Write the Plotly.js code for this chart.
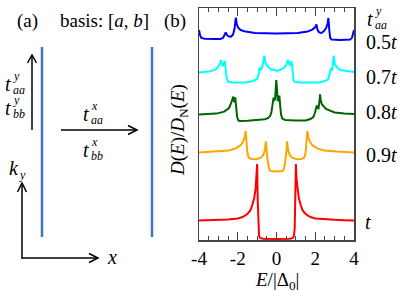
<!DOCTYPE html>
<html>
<head>
<meta charset="utf-8">
<script src="https://cdn.plot.ly/plotly-3.0.1.min.js"></script>
<style>html,body{margin:0;padding:0;background:#fff;}#chart{width:409px;height:292px;}</style>
</head>
<body>
<div id="chart"></div>
<script>
// ---------- data ----------
const seriesNames = ["0.5t", "0.7t", "0.8t", "0.9t", "t"];
const seriesLabels = ["0.5<i>t</i>", "0.7<i>t</i>", "0.8<i>t</i>", "0.9<i>t</i>", "<i>t</i>"];
const seriesColors = ["#0000ff", "#00ffff", "#006400", "#ffa500", "#ff0000"];
const tickVals = [-4, -2, 0, 2, 4];
const tickText = ["-4", "-2", "0", "2", "4"];

const redX = [-4,-3.5,-3,-2.5,-2,-1.75,-1.5,-1.35,-1.25,-1.15,-1.08,-1.03,-1.0,-0.97,-0.94,-0.9,-0.85,-0.7,0,0.7,0.85,0.9,0.94,0.97,1.0,1.03,1.08,1.15,1.25,1.35,1.5,1.75,2,2.5,3,3.5,4];
const redY = [0.98,0.99,1.01,1.03,1.08,1.15,1.3,1.48,1.75,2.1,2.55,3.1,3.8,2.0,0.6,0.22,0.1,0.06,0.05,0.06,0.1,0.22,0.6,2.0,3.8,3.1,2.55,2.1,1.75,1.48,1.3,1.15,1.08,1.03,1.01,0.99,0.98];

const orangeX = [-4,-3.1,-2.45,-2.1,-1.85,-1.72,-1.64,-1.59,-1.55,-1.5,-1.44,-1.3,-1.05,-0.8,-0.68,-0.6,-0.55,-0.51,-0.47,-0.42,-0.37,-0.3,0,0.3,0.37,0.42,0.47,0.51,0.55,0.6,0.68,0.8,1.05,1.3,1.44,1.5,1.55,1.59,1.64,1.72,1.85,2.1,2.45,3.1,4];
const orangeY = [4.38,4.42,4.48,4.58,4.74,4.92,5.15,5.45,4.9,4.35,4.12,4.05,4.04,4.12,4.25,4.5,4.93,4.4,4.08,3.75,3.52,3.45,3.43,3.45,3.52,3.75,4.08,4.4,4.93,4.5,4.25,4.12,4.04,4.05,4.12,4.35,4.9,5.45,5.15,4.92,4.74,4.58,4.48,4.42,4.38];

const greenX = [-4,-3.1,-2.7,-2.45,-2.34,-2.28,-2.23,-2.19,-2.16,-2.13,-2.09,-2.03,-1.97,-1.9,-1.5,-1.05,-0.6,-0.42,-0.32,-0.26,-0.21,-0.15,-0.11,-0.07,-0.03,-0.01,0.02,0.06,0.1,0.15,0.19,0.24,0.3,0.45,1.0,1.5,1.75,1.9,1.98,2.04,2.08,2.12,2.17,2.22,2.25,2.29,2.35,2.55,3.0,3.5,4];
const greenY = [6.28,6.32,6.42,6.6,6.85,7.1,7.17,6.9,6.95,7.13,6.6,6.15,5.98,5.95,5.96,5.99,6.04,6.1,6.22,6.4,6.85,7.12,6.95,7.1,7.7,8.0,7.6,7.0,6.98,7.22,6.7,6.25,6.07,6.0,5.97,5.98,6.05,6.15,6.35,6.6,6.72,6.6,6.58,6.95,7.28,6.95,6.78,6.55,6.38,6.32,6.3];

const cyanX = [-4,-3.5,-3.15,-3.0,-2.9,-2.86,-2.81,-2.76,-2.71,-2.66,-2.62,-2.57,-2.5,-2.3,-1.6,-1.2,-1.0,-0.93,-0.87,-0.8,-0.74,-0.67,-0.63,-0.58,-0.5,-0.3,0.05,0.35,0.5,0.57,0.61,0.66,0.7,0.76,0.79,0.83,0.88,0.95,1.3,2.2,2.5,2.68,2.76,2.81,2.85,2.89,2.93,2.96,3.0,3.1,3.3,3.7,4];
const cyanY = [8.38,8.42,8.52,8.68,8.85,9.0,8.75,8.72,8.85,8.95,8.5,8.05,7.92,7.88,7.88,7.95,8.05,8.25,8.62,8.5,8.62,9.0,9.22,8.9,8.72,8.55,8.45,8.58,8.75,8.95,9.0,8.78,8.75,8.92,8.88,8.4,8.0,7.9,7.88,7.88,7.95,8.05,8.35,8.6,8.45,8.6,9.0,9.22,8.85,8.65,8.5,8.43,8.4];

const blueX = [-4,-3.95,-3.88,-3.7,-3.2,-2.9,-2.76,-2.69,-2.62,-2.56,-2.48,-2.35,-2.24,-2.16,-2.1,-2.05,-1.98,-1.85,-1.6,-1.1,0,1.1,1.6,1.85,1.98,2.06,2.12,2.2,2.32,2.45,2.56,2.63,2.68,2.72,2.77,2.85,3.3,3.8,3.9,3.96,4];
const blueY = [10.5,10.25,10.1,10.06,10.05,10.05,10.1,10.28,10.38,10.25,10.18,10.17,10.28,10.6,11.12,10.8,10.62,10.5,10.42,10.35,10.33,10.35,10.42,10.52,10.62,10.78,10.5,10.38,10.35,10.45,10.6,10.8,11.1,10.55,10.1,10.02,10.0,10.02,10.12,10.35,10.5];

const seriesX = [blueX, cyanX, greenX, orangeX, redX];
const seriesY = [blueY, cyanY, greenY, orangeY, redY];

// ---------- layout helpers (pixel -> paper) ----------
const W = 409, H = 292;
const px = X => X / W;
const py = Y => 1 - Y / H;
const serif = "Liberation Serif";

const traces = seriesNames.map((n, i) => ({
  type: "scatter", mode: "lines", name: n,
  x: seriesX[i], y: seriesY[i],
  line: {color: seriesColors[i], width: 2, shape: "linear"},
  showlegend: false, hoverinfo: "skip"
}));

function ann(text, X, Y, size, extra) {
  return Object.assign({text: text, x: px(X), y: py(Y), xref: "paper", yref: "paper",
    showarrow: false, xanchor: "center", yanchor: "middle", borderpad: 0,
    font: {family: serif, size: size, color: "#000"}}, extra || {});
}
function line(X0, Y0, X1, Y1, color, w) {
  return {type: "line", xref: "paper", yref: "paper", x0: px(X0), y0: py(Y0), x1: px(X1), y1: py(Y1),
    line: {color: color, width: w}};
}
function path(pts, color, w) {
  const d = pts.map((p, i) => (i ? "L" : "M") + px(p[0]) + "," + py(p[1])).join(" ");
  return {type: "path", xref: "paper", yref: "paper", path: d, line: {color: color, width: w}};
}
// symbol t with super and sub (left-anchored small letters)
function tsym(X, Y, sup, sub) {
  return [
    ann("<i>t</i>", X, Y, 20),
    ann("<i>" + sup + "</i>", X + 4, Y - 8, 12, {xanchor: "left"}),
    ann("<i>" + sub + "</i>", X + 4, Y + 6, 12, {xanchor: "left"})
  ];
}

const labelY = [42, 77, 112, 155, 222];
const labelX = [381, 381, 381, 381, 368];

const annotations = [
  ann("(a)", 27, 21, 19),
  ann("basis: [<i>a</i>, <i>b</i>]", 104, 21, 19),
  ann("(b)", 175, 21, 19),
  ann("<i>D</i>(<i>E</i>)/<i>D</i><sub>N</sub>(<i>E</i>)", 179, 130, 19, {textangle: -90}),
  ann("<i>E</i>/|Δ<sub>0</sub>|", 277, 281, 19),
  ann("<i>k</i>", 14, 168, 20),
  ann("<i>y</i>", 22, 175, 12),
  ann("<i>x</i>", 112, 257, 20)
].concat(
  tsym(8, 84, "y", "aa"),
  tsym(8, 108, "y", "bb"),
  tsym(86, 114, "x", "aa"),
  tsym(86, 150, "x", "bb"),
  tsym(370, 19, "y", "aa"),
  seriesLabels.map((t, i) => ann(t, labelX[i], labelY[i], 20))
);

const shapes = [
  line(42, 47, 42, 237, "#4472c4", 2.5),
  line(152, 47, 152, 237, "#4472c4", 2.5),
  line(32, 130, 32, 56, "#000", 1.5),
  path([[27.5, 63], [32, 55], [36.5, 63]], "#000", 1.5),
  line(61, 130, 136, 130, "#000", 1.5),
  path([[128, 125.5], [137, 130], [128, 134.5]], "#000", 1.5),
  line(22, 258.5, 22, 184, "#000", 1.5),
  path([[17.5, 192], [22, 183], [26.5, 192]], "#000", 1.5),
  line(21.3, 258, 97, 258, "#000", 1.5),
  path([[89, 253.5], [98, 258], [89, 262.5]], "#000", 1.5)
];

const layout = {
  width: W, height: H,
  margin: {l: 0, r: 0, t: 0, b: 0},
  paper_bgcolor: "#fff", plot_bgcolor: "#fff",
  font: {family: serif, color: "#000"},
  showlegend: false,
  xaxis: {
    domain: [199 / W, 354 / W], range: [-4, 4],
    showgrid: false, zeroline: false,
    showline: true, linecolor: "#444", linewidth: 1.5, mirror: "ticks",
    ticks: "inside", ticklen: 8, tickwidth: 1.2, tickcolor: "#444",
    tickmode: "array", tickvals: tickVals, ticktext: tickText,
    ticklabelstandoff: 1,
    tickfont: {family: serif, size: 19, color: "#000"},
    minor: {tickmode: "linear", tick0: 0, dtick: 0.5, ticks: "inside", ticklen: 4, tickwidth: 1, tickcolor: "#444", showgrid: false}
  },
  yaxis: {
    domain: [(H - 240) / H, (H - 8) / H], range: [0, 11.6],
    showgrid: false, zeroline: false,
    showline: true, linecolor: "#444", linewidth: 1.5, mirror: true,
    ticks: "", showticklabels: false
  },
  annotations: annotations,
  shapes: shapes
};

Plotly.newPlot("chart", traces, layout, {staticPlot: true, displayModeBar: false});
</script>
</body>
</html>
